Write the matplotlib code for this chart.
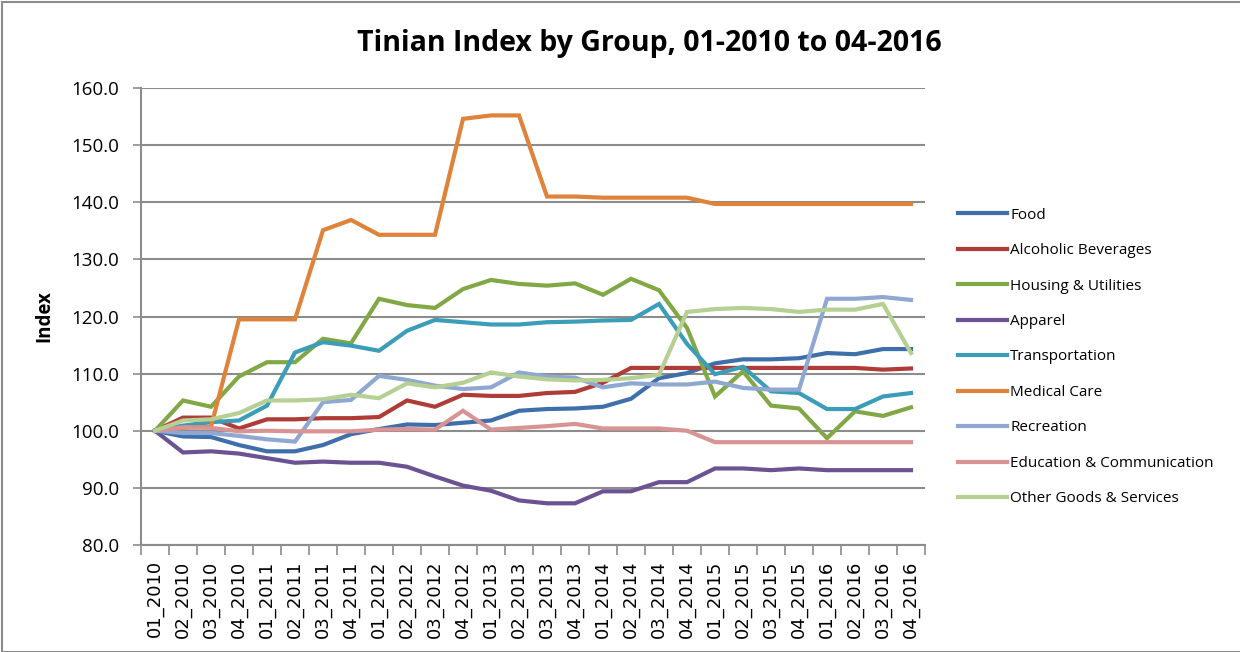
import matplotlib.pyplot as plt
import matplotlib.patches as patches
import numpy as np

# Trimestres 01_2010 .. 04_2016
quarters = [f"{q:02d}_{y}" for y in range(2010, 2017) for q in range(1, 5)]

food = [100.0, 99.0, 98.9, 97.5, 96.4, 96.4, 97.5, 99.4, 100.3, 101.1, 101.0, 101.4, 101.8, 103.5,
        103.8, 103.9, 104.2, 105.6, 109.2, 110.1, 111.8, 112.5, 112.5, 112.7, 113.6, 113.4, 114.3, 114.3]
alcohol = [100.0, 102.3, 102.3, 100.4, 102.0, 102.0, 102.2, 102.2, 102.4, 105.3, 104.2, 106.3, 106.1, 106.1,
           106.6, 106.8, 108.4, 111.0, 111.0, 111.0, 111.0, 111.0, 111.0, 111.0, 111.0, 111.0, 110.7, 110.9]
housing = [100.0, 105.3, 104.2, 109.5, 112.0, 112.0, 116.1, 115.3, 123.1, 122.0, 121.5, 124.8, 126.4, 125.7,
           125.4, 125.8, 123.8, 126.6, 124.6, 118.0, 106.0, 110.4, 104.4, 103.9, 98.7, 103.4, 102.6, 104.1]
apparel = [100.0, 96.2, 96.4, 96.0, 95.2, 94.4, 94.6, 94.4, 94.4, 93.7, 92.0, 90.4, 89.5, 87.8,
           87.3, 87.3, 89.4, 89.4, 91.0, 91.0, 93.4, 93.4, 93.1, 93.4, 93.1, 93.1, 93.1, 93.1]
transport = [100.0, 100.9, 101.5, 101.8, 104.4, 113.7, 115.5, 114.9, 114.0, 117.5, 119.4, 119.0, 118.6, 118.6,
             119.0, 119.1, 119.3, 119.4, 122.2, 115.2, 109.9, 111.2, 106.9, 106.6, 103.8, 103.8, 106.0, 106.6]
medical = [100.0, 100.5, 100.7, 119.5, 119.5, 119.5, 135.1, 136.9, 134.3, 134.3, 134.3, 154.6, 155.2, 155.2,
           141.0, 141.0, 140.8, 140.8, 140.8, 140.8, 139.7, 139.7, 139.7, 139.7, 139.7, 139.7, 139.7, 139.7]
recreation = [100.0, 99.6, 99.6, 99.1, 98.5, 98.1, 105.0, 105.4, 109.6, 108.9, 107.9, 107.3, 107.6, 110.2,
              109.5, 109.3, 107.6, 108.3, 108.1, 108.1, 108.6, 107.5, 107.2, 107.2, 123.1, 123.1, 123.4, 122.9]
education = [100.0, 100.6, 100.5, 99.9, 100.0, 99.9, 99.9, 99.9, 100.2, 100.3, 100.2, 103.5, 100.2, 100.5,
             100.8, 101.2, 100.4, 100.4, 100.4, 100.0, 98.0, 98.0, 98.0, 98.0, 98.0, 98.0, 98.0, 98.0]
other = [100.0, 101.8, 102.0, 103.1, 105.3, 105.3, 105.5, 106.3, 105.7, 108.3, 107.6, 108.4, 110.2, 109.5,
         109.0, 108.8, 108.9, 109.2, 109.8, 120.8, 121.3, 121.5, 121.3, 120.8, 121.2, 121.2, 122.2, 113.6]

series = [
    ("Food", food, "#3f6fab"),
    ("Alcoholic Beverages", alcohol, "#b03c38"),
    ("Housing & Utilities", housing, "#82a846"),
    ("Apparel", apparel, "#6b5293"),
    ("Transportation", transport, "#3b9db7"),
    ("Medical Care", medical, "#e0833a"),
    ("Recreation", recreation, "#8ea8d2"),
    ("Education & Communication", education, "#d99394"),
    ("Other Goods & Services", other, "#b6cf93"),
]

plt.rcParams['font.family'] = ['Open Sans', 'DejaVu Sans']
grid_col = "#8c8c8c"

fig = plt.figure(figsize=(12.4, 6.52), dpi=100)
ax = fig.add_axes([141 / 1240, 1 - 545 / 652, (925 - 141) / 1240, (545 - 88) / 652])

x = np.arange(len(quarters))
for name, vals, col in series:
    ax.plot(x, vals, color=col, lw=3, label=name, solid_joinstyle='miter')

ax.set_ylim(80, 160)
ax.set_xlim(-0.5, len(quarters) - 0.5)
ax.set_yticks(np.arange(80, 161, 10))
ax.set_yticklabels([f"{v:.1f}" for v in np.arange(80, 161, 10)], fontsize=13.5)
ax.yaxis.grid(True, color=grid_col, lw=1.5)
ax.set_axisbelow(True)
ax.tick_params(axis='y', length=6, width=1.2, color=grid_col, pad=10)

ax.set_xticks(x)
ax.set_xticklabels(quarters, rotation=90, fontsize=13, family='DejaVu Sans')
ax.set_xticks(np.arange(-0.5, len(quarters), 1), minor=True)
ax.tick_params(axis='x', which='major', length=0, pad=11)
ax.tick_params(axis='x', which='minor', length=7, color=grid_col, width=1.2)

for s in ['top', 'right']:
    ax.spines[s].set_visible(False)
for s in ['left', 'bottom']:
    ax.spines[s].set_color(grid_col)
    ax.spines[s].set_linewidth(1.5)

ax.set_ylabel("Index", fontsize=13.5, fontweight='bold', labelpad=12)

fig.text(0.524, 1 - 43 / 652, "Tinian Index by Group, 01-2010 to 04-2016",
         ha='center', va='center', fontsize=20.5, fontweight='bold')

ax.legend(loc='center left', bbox_to_anchor=(952 / 1240, 1 - 357 / 652), bbox_transform=fig.transFigure,
          frameon=False, fontsize=11, handlelength=3.2, handletextpad=0.2, labelspacing=1.34,
          borderaxespad=0)

# cadre du graphique
fig.patches.append(patches.Rectangle((2 / 1240, 0), 1.2, 1 - 2 / 652, transform=fig.transFigure,
                                     fill=False, edgecolor=grid_col, lw=1.5))

fig.savefig("out.png", dpi=100)
